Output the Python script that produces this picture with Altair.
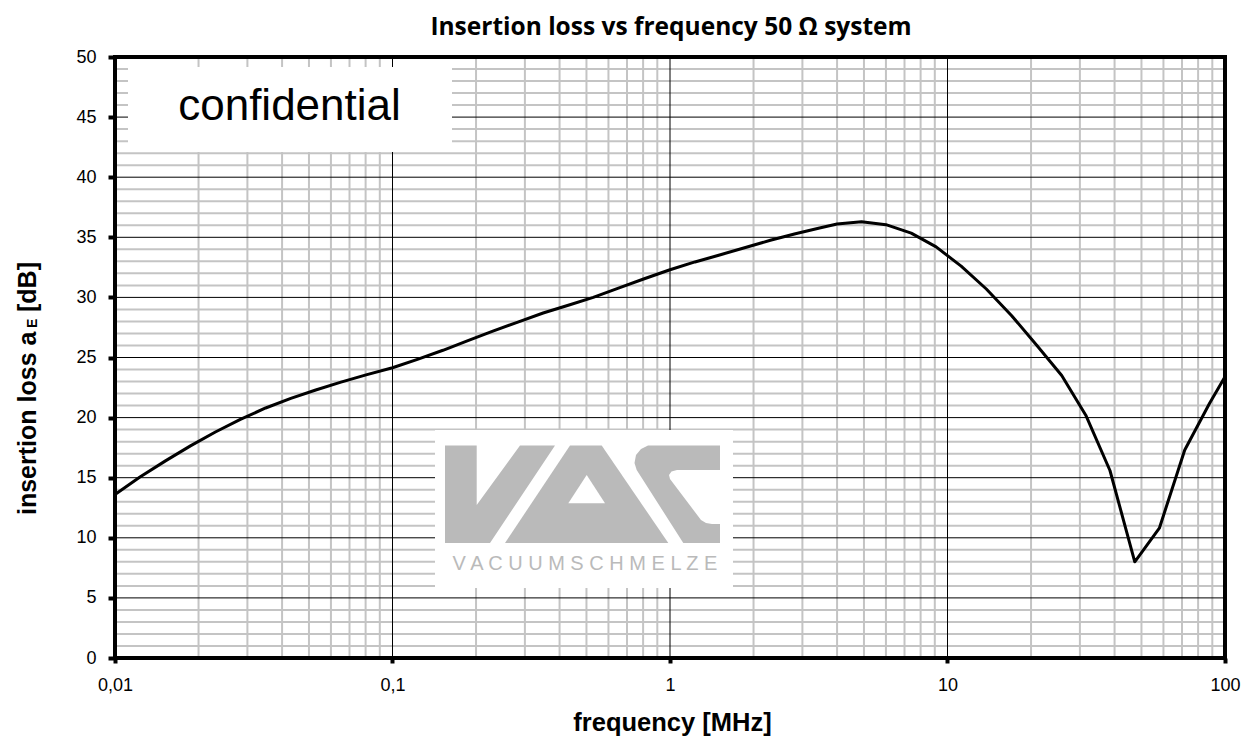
import altair as alt
import pandas as pd

# ---- data ----
FREQ_MHZ = [0.01, 0.0123, 0.0152, 0.0187, 0.023, 0.0283, 0.0349, 0.043, 0.0529, 0.0652,
            0.0803, 0.1, 0.123, 0.152, 0.187, 0.23, 0.283, 0.349, 0.43, 0.529,
            0.652, 0.803, 1.0, 1.23, 1.52, 1.87, 2.3, 2.83, 3.49, 4.0,
            4.9, 6.0, 7.4, 9.1, 11.2, 13.8, 17.0, 21.0, 25.8, 31.5,
            38.5, 47.3, 58.0, 71.6, 88.0, 100.0]
LOSS_DB = [13.6, 15.05, 16.4, 17.65, 18.8, 19.85, 20.8, 21.6, 22.3, 22.95,
           23.55, 24.15, 24.85, 25.6, 26.4, 27.2, 27.95, 28.7, 29.35, 30.0,
           30.77, 31.53, 32.3, 32.95, 33.55, 34.15, 34.75, 35.3, 35.8, 36.1,
           36.3, 36.05, 35.35, 34.2, 32.6, 30.7, 28.5, 26.0, 23.5, 20.2,
           15.6, 8.0, 10.8, 17.3, 21.2, 23.4]

X_TICKS = [0.01, 0.1, 1, 10, 100]
X_TICK_LABELS = ["0,01", "0,1", "1", "10", "100"]
Y_TICKS = [0, 5, 10, 15, 20, 25, 30, 35, 40, 45, 50]
X_MAJOR_GRID = [0.1, 1, 10]
Y_MAJOR_GRID = [5, 10, 15, 20, 25, 30, 35, 40, 45]
X_MINOR_GRID = [m * d for d in [0.01, 0.1, 1, 10] for m in range(2, 10)]
Y_MINOR_GRID = [v for v in range(1, 50) if v % 5]

TITLE = "Insertion loss vs frequency 50 Ω system"
X_TITLE = "frequency [MHz]"
Y_TITLE_MAIN = "insertion loss a"
Y_TITLE_SUB = "E"
Y_TITLE_UNIT = "[dB]"
WATERMARK = "confidential"
LOGO_TEXT = "V A C U U M S C H M E L Z E"

# logo outline (plot-area pixel space, decorative)
LOGO_V = [(330, 388.5), (361.7, 388.5), (361.7, 448), (405, 388.5), (440, 388.5), (375, 486), (330, 486)]
LOGO_A = [(390, 486), (455, 388.5), (486.7, 388.5), (553.3, 486)]
LOGO_A_HOLE = [(453.3, 446.3), (490, 446.3), (471.7, 418)]
LOGO_C = [(568.3, 486), (521.7, 413), (519.5, 406), (521, 398), (526, 392), (533, 388.5),
          (605, 388.5), (605, 413), (562, 413), (556.5, 414.5), (554, 418), (555, 422),
          (586, 463), (591, 466), (597, 467), (605, 467), (605, 486)]

W, H = 1110, 601
FONT = "Liberation Sans"
GRID_GRAY = "#c4c4c4"
LOGO_GRAY = "#bababa"

df = pd.DataFrame({"f": FREQ_MHZ, "a": LOSS_DB})
one = pd.DataFrame({"k": [0]})

xs = alt.Scale(type="log", domain=[0.01, 100], nice=False)
ys = alt.Scale(domain=[0, 50], nice=False, zero=False)

label_expr = " : ".join(
    f"datum.value == {v} ? '{l}'" for v, l in zip(X_TICKS, X_TICK_LABELS)
) + " : ''"

X_AXIS = alt.Axis(
    values=X_TICKS, labelExpr=label_expr, grid=False, domain=False,
    ticks=True, tickSize=5, tickWidth=4, tickColor="black",
    labelFont=FONT, labelFontSize=18, labelColor="black", labelPadding=13,
    labelFlush=False, labelOverlap=False,
    title=X_TITLE, titleFont=FONT, titleFontSize=25.5, titleFontWeight="bold",
    titleColor="black", titleBaseline="alphabetic", titleY=72, titleX=557)
Y_AXIS = alt.Axis(
    values=Y_TICKS, grid=False, domain=False, ticks=True, tickSize=7,
    tickWidth=4, tickColor="black", labelFont=FONT, labelFontSize=18,
    labelColor="black", labelPadding=12, labelFlush=False, labelOverlap=False,
    title=None)


def X(field="f"):
    return alt.X(f"{field}:Q", scale=xs, axis=X_AXIS)


def Y(field="a"):
    return alt.Y(f"{field}:Q", scale=ys, axis=Y_AXIS)


minor_x = alt.Chart(pd.DataFrame({"f": X_MINOR_GRID})).mark_rule(
    color=GRID_GRAY, strokeWidth=2).encode(x=X())
minor_y = alt.Chart(pd.DataFrame({"a": Y_MINOR_GRID})).mark_rule(
    color=GRID_GRAY, strokeWidth=2).encode(y=Y())
major_x = alt.Chart(pd.DataFrame({"f": X_MAJOR_GRID})).mark_rule(
    color="black", strokeWidth=1).encode(x=X())
major_y = alt.Chart(pd.DataFrame({"a": Y_MAJOR_GRID})).mark_rule(
    color="black", strokeWidth=1).encode(y=Y())

box1 = alt.Chart(one).mark_rect(fill="white").encode(
    x=alt.value(13), x2=alt.value(337), y=alt.value(10), y2=alt.value(95))
box2 = alt.Chart(one).mark_rect(fill="white").encode(
    x=alt.value(320), x2=alt.value(618), y=alt.value(373), y2=alt.value(531))

conf = alt.Chart(one).mark_text(font=FONT, fontSize=44, color="black",
                                align="center", baseline="alphabetic").encode(
    x=alt.value(174.5), y=alt.value(63), text=alt.value(WATERMARK))


def feat(pts):
    ring = [list(p) for p in pts] + [list(pts[0])]
    return {"type": "Feature", "properties": {},
            "geometry": {"type": "Polygon", "coordinates": [ring]}}


logo_gray = alt.Chart(alt.Data(values=[feat(LOGO_V), feat(LOGO_A), feat(LOGO_C)])).mark_geoshape(
    fill=LOGO_GRAY, strokeWidth=0).project(type="identity", scale=1, translate=[0, 0])
logo_hole = alt.Chart(alt.Data(values=[feat(LOGO_A_HOLE)])).mark_geoshape(
    fill="white", strokeWidth=0).project(type="identity", scale=1, translate=[0, 0])
logo_txt = alt.Chart(one).mark_text(font=FONT, fontSize=20, color=LOGO_GRAY,
                                    align="center", baseline="alphabetic").encode(
    x=alt.value(470), y=alt.value(513), text=alt.value(LOGO_TEXT))

curve = alt.Chart(df).mark_line(color="black", strokeWidth=3, strokeJoin="round").encode(
    x=X(), y=Y())

frame = alt.Chart(one).mark_rect(fill=None, filled=False, stroke="black", strokeWidth=4).encode(
    x=alt.value(0), x2=alt.value(W), y=alt.value(0), y2=alt.value(H))

yt1 = alt.Chart(one).mark_text(font=FONT, fontSize=25, fontWeight="bold", color="black",
                               angle=270, align="left", baseline="alphabetic").encode(
    x=alt.value(-79), y=alt.value(458), text=alt.value(Y_TITLE_MAIN))
yt2 = alt.Chart(one).mark_text(font=FONT, fontSize=14, fontWeight="bold", color="black",
                               angle=270, align="left", baseline="alphabetic").encode(
    x=alt.value(-78), y=alt.value(271), text=alt.value(Y_TITLE_SUB))
yt3 = alt.Chart(one).mark_text(font=FONT, fontSize=25, fontWeight="bold", color="black",
                               angle=270, align="right", baseline="alphabetic").encode(
    x=alt.value(-79), y=alt.value(205), text=alt.value(Y_TITLE_UNIT))
title = alt.Chart(one).mark_text(font="Open Sans", fontSize=24.5, fontWeight="bold", color="black",
                                 align="center", baseline="alphabetic").encode(
    x=alt.value(556), y=alt.value(-22.5), text=alt.value(TITLE))

chart = alt.layer(
    minor_x, minor_y, major_x, major_y, box1, box2, conf,
    logo_gray, logo_hole, logo_txt, curve, frame, yt1, yt2, yt3, title
).properties(
    width=W, height=H,
    autosize=alt.AutoSizeParams(type="none"),
    padding={"left": 107, "top": 49, "right": 20, "bottom": 78},
).configure_view(stroke=None).configure(background="white")

chart.save("out.html", embed_options={"renderer": "svg", "actions": False})
